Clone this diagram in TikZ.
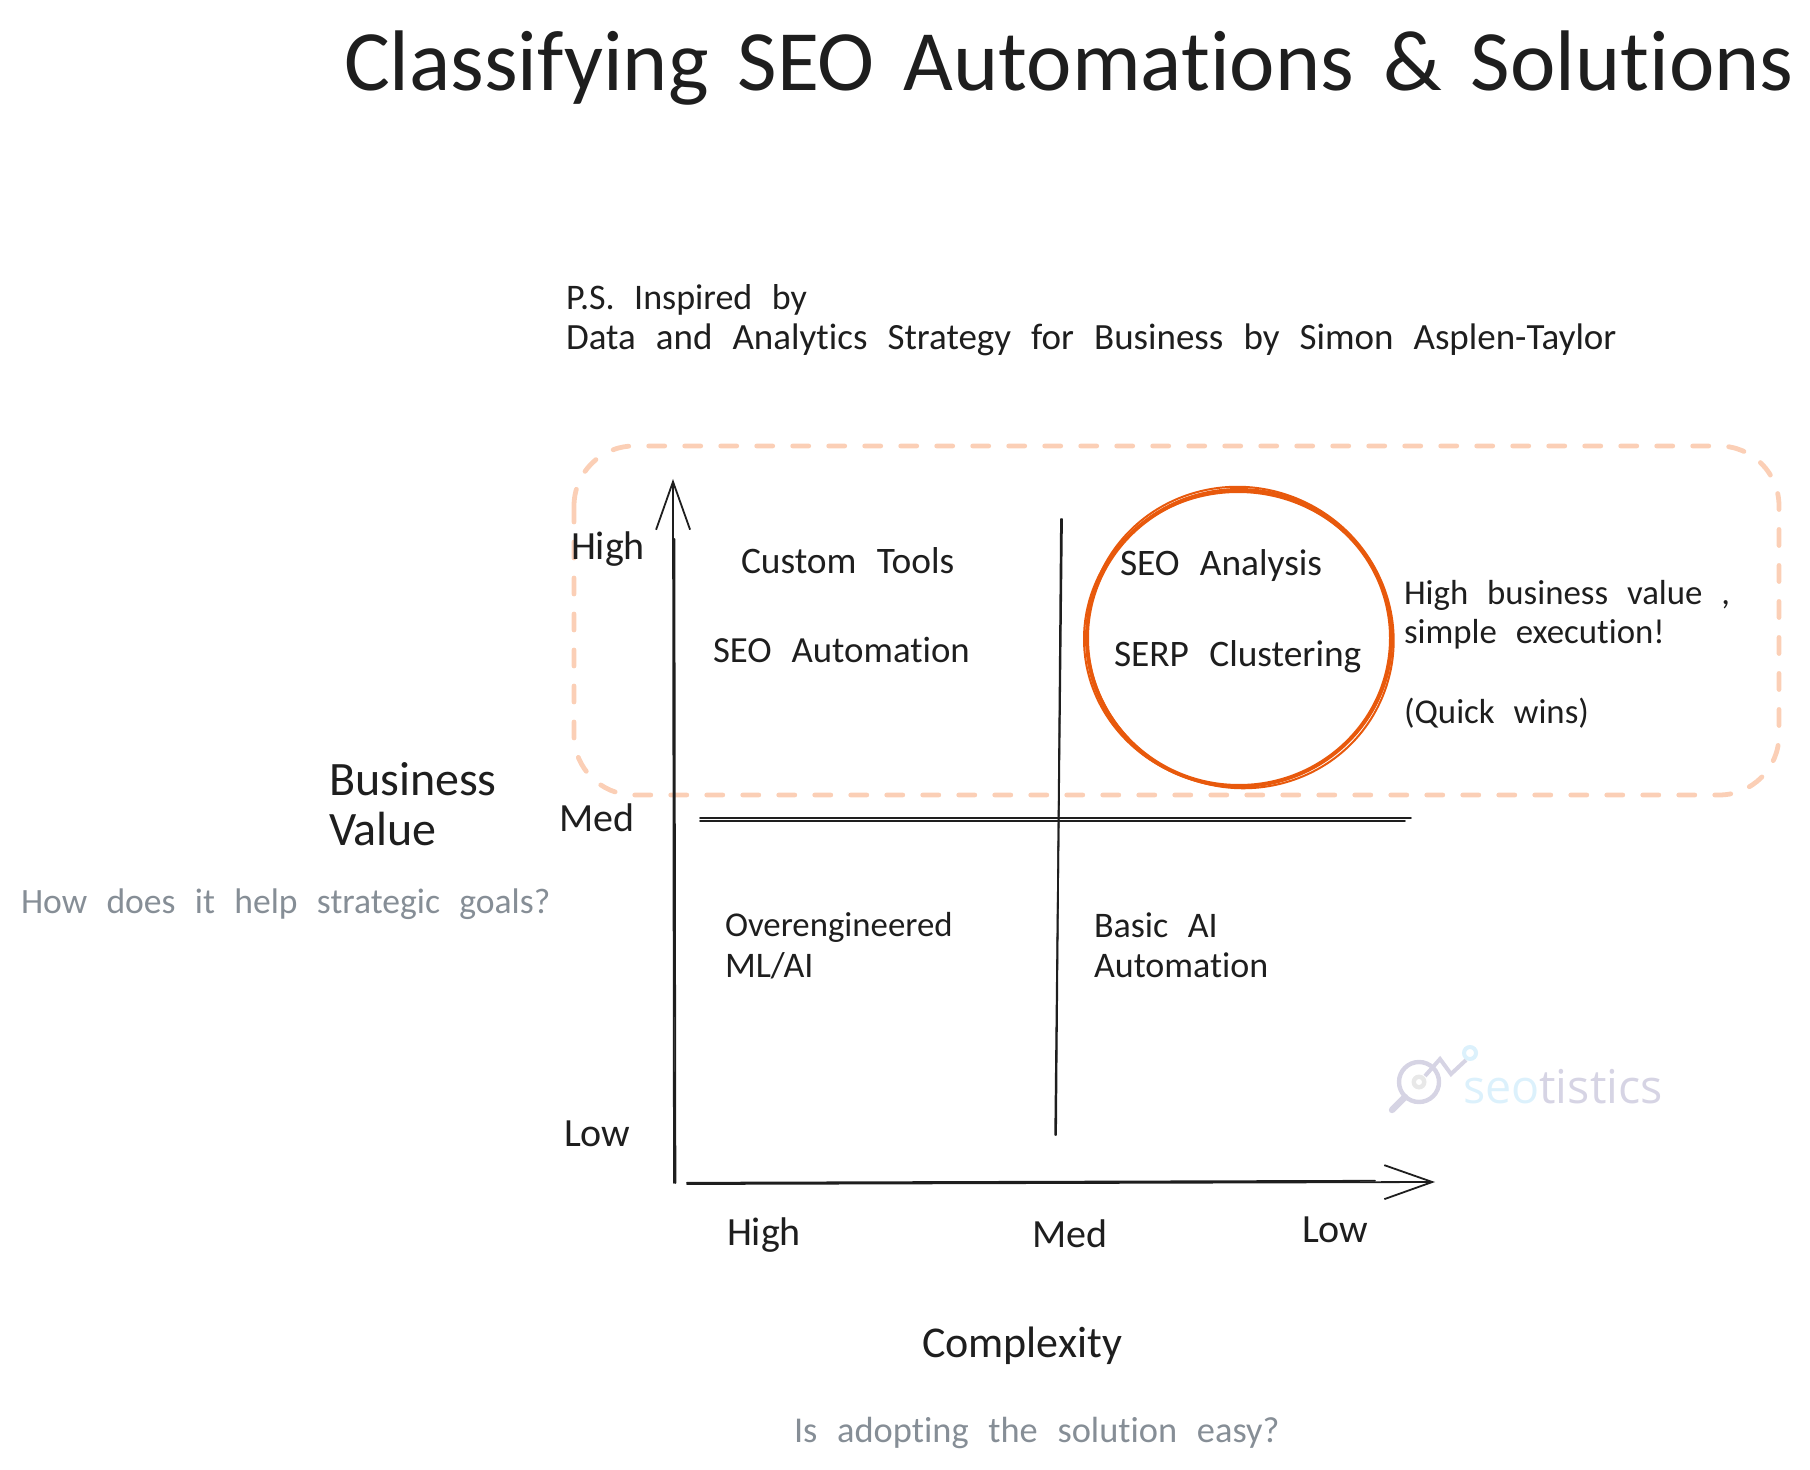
\documentclass[tikz,border=0pt]{standalone}
\usepackage{fontspec}
\usepackage[svgnames]{xcolor}
\usetikzlibrary{arrows.meta}
\setmainfont[WordSpace=2.4,Ligatures=NoCommon]{Carlito}
\newfontfamily\titlefont[WordSpace=1.5,Ligatures=NoCommon]{Carlito}
\newfontfamily\logofont{Open Sans}
\definecolor{inkblack}{HTML}{1E1E1E}
\definecolor{notegrey}{HTML}{868E96}
\definecolor{ringorange}{HTML}{E8590C}
\definecolor{boxpeach}{HTML}{FBCFB6}
\definecolor{logoblue}{HTML}{DCF1FC}
\definecolor{logolilac}{HTML}{D6D4E4}

\begin{document}
\begin{tikzpicture}[x=.5pt,y=-.5pt]
\tikzset{
  every node/.style={inner sep=0pt,outer sep=0pt,anchor=west,text=inkblack},
  titletext/.style={font=\titlefont\fontsize{43}{50}\selectfont},
  bodytext/.style={font=\fontsize{18}{22}\selectfont},
  bodywide/.style={font=\fontsize{18.7}{22}\selectfont},
  bodynarrow/.style={font=\fontsize{17.4}{22}\selectfont},
  axistext/.style={font=\fontsize{20}{24}\selectfont},
  nametext/.style={font=\fontsize{24}{28}\selectfont},
  notetext/.style={font=\fontsize{17.8}{21}\selectfont,text=notegrey},
  axisline/.style={draw=inkblack,line width=.9pt,line cap=round},
  axisarrow/.style={axisline,-{Straight Barb[length=24pt,width=17pt,line width=.9pt]}},
  ringline/.style={draw=ringorange,line width=2pt},
  quickbox/.style={draw=boxpeach,line width=2.4pt,line cap=round,dash pattern=on 8pt off 10pt,rounded corners=30pt},
}
\useasboundingbox (0,0) rectangle (1810,1470);

\node[titletext] (titlenode) at (344,68) {Classifying SEO Automations \& Solutions};
\node[bodytext] (inspired1) at (566,300) {P.S. Inspired by};
\node[bodytext,font=\fontsize{18.5}{22}\selectfont] (inspired2) at (566,340) {Data and Analytics Strategy for Business by Simon Asplen-Taylor};

% quick wins area
\draw[quickbox] (574,446) rectangle (1779,795);

% axes
\coordinate (yfoot) at (674,1183);
\coordinate (ytip) at (673,479);
\coordinate (xfoot) at (687,1184);
\coordinate (xtip) at (1435,1182);
\draw[axisarrow] (yfoot) -- (ytip);
\draw[axisline] ([xshift=.7pt]yfoot) -- ([xshift=.7pt,yshift=-30pt]ytip);
\draw[axisarrow] (xfoot) -- (xtip);
\draw[axisline] ([yshift=.6pt]xfoot) -- ([yshift=.6pt,xshift=-30pt]xtip);

% quadrant lines
\coordinate (midtop) at (1061,519);
\coordinate (midbot) at (1056,1135);
\coordinate (midleft) at (700,818);
\coordinate (midright) at (1411,818);
\draw[axisline] (midtop) -- (midbot);
\draw[axisline] ([xshift=.5pt]midtop) -- ([xshift=-.4pt]midbot);
\draw[axisline] (midleft) -- (midright);
\draw[axisline] ([yshift=-1.4pt]midleft) -- ([yshift=-1.4pt,xshift=-3pt]midright);

% ring
\draw[ringline] (1239,638) ellipse [x radius=152,y radius=148];
\draw[ringline,line width=1pt] (1238,639) ellipse [x radius=154,y radius=147];
\draw[ringline,line width=1pt,rotate around={-25:(1239,638)}] (1240,637) ellipse [x radius=154,y radius=150];

\node[axistext] (yhigh) at (571,549) {High};
\node[axistext] (ymed) at (559,818) {Med};
\node[axistext] (ylow) at (564,1134) {Low};
\node[axistext] (xhigh) at (727,1235) {High};
\node[axistext] (xmed) at (1032,1234) {Med};
\node[axistext] (xlow) at (1302,1230) {Low};

\node[nametext] (bizvalue1) at (329,779) {Business};
\node[nametext] (bizvalue2) at (329,829) {Value};
\node[notetext] (bizquestion) at (21,904) {How does it help strategic goals?};
\node[nametext,font=\fontsize{22}{26}\selectfont] (complexname) at (922,1346) {Complexity};
\node[notetext,font=\fontsize{18.2}{21}\selectfont] (complexquestion) at (794,1433) {Is adopting the solution easy?};

\node[bodywide] (customtools) at (741,561) {Custom Tools};
\node[bodytext,font=\fontsize{18.4}{22}\selectfont] (seoauto) at (713,650) {SEO Automation};
\node[bodynarrow] (overeng1) at (725,927) {Overengineered};
\node[bodytext] (overeng2) at (725,966) {ML/AI};
\node[bodytext] (basicai1) at (1094,925) {Basic AI};
\node[bodytext] (basicai2) at (1094,965) {Automation};
\node[bodywide] (seoanalysis) at (1120,566) {SEO Analysis};
\node[bodywide] (serpcluster) at (1114,657) {SERP Clustering};
\node[bodynarrow] (quick1) at (1404,595) {High business value ,};
\node[bodynarrow] (quick2) at (1404,634) {simple execution!};
\node[bodynarrow] (quick3) at (1404,713) {(Quick wins)};

% logo
\draw[logolilac,line width=2.2pt] (1419,1082) circle (20);
\draw[logolilac,line width=3.2pt,line cap=round] (1405,1097) -- (1392,1110);
\fill[black!9] (1419,1082) circle (7.5);
\fill[white] (1419,1082) circle (3);
\draw[logolilac,line width=2pt] (1425,1076) -- (1440,1059) -- (1451,1074) -- (1466,1060);
\draw[logoblue,line width=2pt,fill=white] (1470,1053) circle (6);
\node[font=\logofont\fontsize{23.3}{28}\selectfont,text=logolilac,anchor=base west] (logoname) at (1463,1103) {\textcolor{logoblue}{seo}tistics};
\end{tikzpicture}
\end{document}
